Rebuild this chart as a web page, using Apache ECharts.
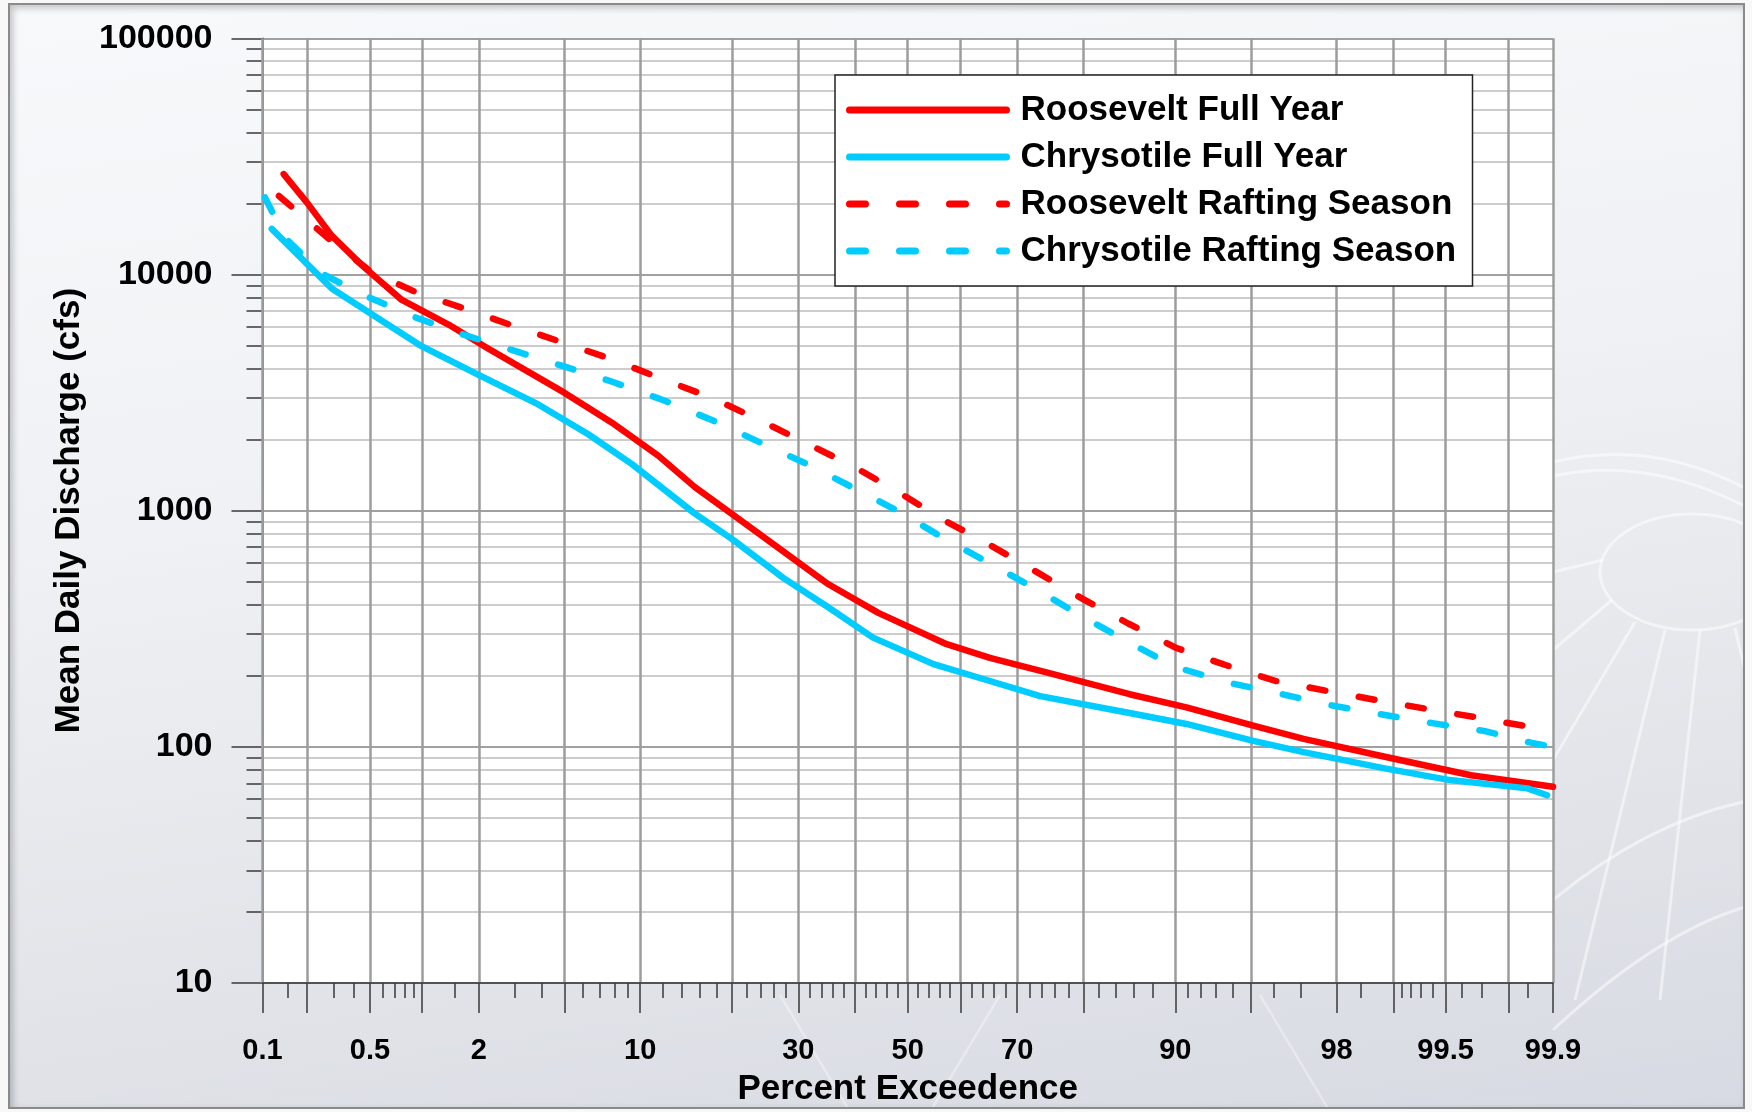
<!DOCTYPE html>
<html><head><meta charset="utf-8">
<script src="https://cdn.jsdelivr.net/npm/echarts@6/dist/echarts.min.js"></script>
<style>
html,body{margin:0;padding:0;width:1752px;height:1112px;overflow:hidden;background:#f8f8f8;}
#bg{position:absolute;left:8px;top:3px;width:1733px;height:1102px;border:2px solid #8a8a8a;box-shadow:inset 3px 3px 7px rgba(0,0,0,0.22);background:linear-gradient(172deg,#f8f9fb 0%,#f0f1f4 40%,#e2e4e9 75%,#d7dae2 100%);overflow:hidden;}
#bg svg{position:absolute;left:-10px;top:-5px;}
#chart{position:absolute;left:0;top:0;width:1752px;height:1112px;}
</style></head><body>
<div id="bg"><svg width="1752" height="1112" viewBox="0 0 1752 1112">
<g fill="none" stroke="#ffffff" stroke-opacity="0.5" stroke-width="3">
<path d="M1553,462 Q1655,438 1752,492"/>
<path d="M1553,476 Q1650,455 1752,510"/>
<ellipse cx="1692" cy="572" rx="92" ry="58"/>
<path d="M1603,560 L1553,572"/>
<path d="M1612,600 L1553,650"/>
<path d="M1635,622 L1553,760"/>
<path d="M1665,630 L1575,1000"/>
<path d="M1700,630 L1660,1000"/>
<path d="M1735,628 L1752,700"/>
<path d="M1553,900 Q1650,820 1752,800"/>
<path d="M1553,1030 Q1660,930 1752,905"/>
</g>
<g fill="none" stroke="#ffffff" stroke-opacity="0.35" stroke-width="2.5">
<path d="M780,995 L850,1112"/>
<path d="M1000,995 L930,1112"/>
<path d="M1260,995 L1330,1112"/>
</g></svg></div>
<div id="chart"></div>
<script>
// ---------------- data ----------------
const xGridPct  = [0.1,0.2,0.5,1,2,5,10,20,30,40,50,60,70,80,90,95,98,99,99.5,99.8,99.9];
const xMinorPct = [0.15,0.3,0.4,0.6,0.7,0.8,0.9,1.5,3,4,6,7,8,9,12,14,16,18,22,24,26,28,32,34,36,38,42,44,46,48,52,54,56,58,62,64,66,68,72,74,76,78,82,84,86,88,91,92,93,94,96,97,98.5,99.1,99.2,99.3,99.4,99.6,99.7,99.85];
const xLabels   = ['0.1','0.5','2','10','30','50','70','90','98','99.5','99.9'];
const yLabels   = [10,100,1000,10000,100000];
const yMinor    = [20,30,40,50,60,70,80,90,200,300,400,500,600,700,800,900,2000,3000,4000,5000,6000,7000,8000,9000,20000,30000,40000,50000,60000,70000,80000,90000];

const seriesNames = ['Roosevelt Full Year','Chrysotile Full Year','Roosevelt Rafting Season','Chrysotile Rafting Season'];

const rooseveltFullPct = [0.14,0.2,0.29,0.45,0.77,1.4,2.2,5,8,11.6,15.4,20.2,27.6,34.9,44.4,57.4,65.3,75.7,85.6,90.9,95.1,97.1,98.9,99.65,99.83,99.9];
const rooseveltFullCfs = [26600,20200,14600,10900,7800,6120,4880,3160,2320,1710,1258,957,670,493,369,272,238,203,167,147,123,108,90.6,75.8,71,67.7];

const chrysotileFullPct = [0.116,0.29,1.0,1.98,3.84,6.3,9.3,15.4,20.2,27.6,34.9,43.4,54.9,65.3,73.7,85.6,90.9,95.1,97.1,98.9,99.53,99.85,99.89];
const chrysotileFullCfs = [15600,8730,4960,3770,2817,2107,1577,971,750,518,394,290,224,190,164,139,125,106,95,80.9,72.3,66.7,62.4];

const rooseveltRaftPct = [0.13,0.27,0.51,0.91,1.70,3.0,5.0,8.05,12.1,17.6,24.1,31.6,40.0,48.7,57.2,65.6,73.4,79.9,85.5,90.1,93.6,96.1,97.8,98.8,99.39,99.71,99.86,99.9];
const rooseveltRaftCfs = [21500,14400,10250,8460,7150,6025,5125,4325,3590,2985,2400,1918,1527,1180,903,709,545,423,332,262,222,190,172,157,143.6,131.6,121,118];

const chrysotileRaftPct = [0.104,0.145,0.25,0.47,0.89,1.67,2.94,4.95,7.9,12.1,17.4,23.7,31.4,39.8,48.7,57.2,65.8,73.4,80.0,85.5,89.9,93.6,96.1,97.8,98.8,99.4,99.71,99.86,99.9];
const chrysotileRaftCfs = [21200,14200,10100,8120,6640,5560,4770,4090,3505,2935,2420,1960,1578,1247,980,756,589,459,354,277,219,188,169.5,150.7,137.7,126,116.8,103.9,100];

// ------------- normal-probability scale transform -------------
function probit(p){
  const a=[-3.969683028665376e+01,2.209460984245205e+02,-2.759285104469687e+02,1.383577518672690e+02,-3.066479806614716e+01,2.506628277459239e+00];
  const b=[-5.447609879822406e+01,1.615858368580409e+02,-1.556989798598866e+02,6.680131188771972e+01,-1.328068155288572e+01];
  const c=[-7.784894002430293e-03,-3.223964580411365e-01,-2.400758277161838e+00,-2.549732539343734e+00,4.374664141464968e+00,2.938163982698783e+00];
  const d=[7.784695709041462e-03,3.224671290700398e-01,2.445134137142996e+00,3.754408661907416e+00];
  const pl=0.02425, ph=1-pl;
  if(p<pl){const q=Math.sqrt(-2*Math.log(p));return (((((c[0]*q+c[1])*q+c[2])*q+c[3])*q+c[4])*q+c[5])/((((d[0]*q+d[1])*q+d[2])*q+d[3])*q+1);}
  if(p>ph){const q=Math.sqrt(-2*Math.log(1-p));return -(((((c[0]*q+c[1])*q+c[2])*q+c[3])*q+c[4])*q+c[5])/((((d[0]*q+d[1])*q+d[2])*q+d[3])*q+1);}
  const q=p-0.5,r=q*q;
  return (((((a[0]*r+a[1])*r+a[2])*r+a[3])*r+a[4])*r+a[5])*q/(((((b[0]*r+b[1])*r+b[2])*r+b[3])*r+b[4])*r+1);
}
const toZ = pct => probit(pct/100);
const X_MIN = toZ(0.1), X_MAX = toZ(99.9);
const labelZ = xLabels.map(s => toZ(parseFloat(s)));
function xFmt(v){
  let best=0, bd=Infinity;
  labelZ.forEach((z,i)=>{const dd=Math.abs(z-v); if(dd<bd){bd=dd;best=i;}});
  return xLabels[best];
}
const toXY = (pcts, vals) => pcts.map((p,i)=>[toZ(p), vals[i]]);

const RED = '#ff0000', CYAN = '#00ccff';
const LW = 6.5, DASH = [16,34];
const FONT = '"Liberation Sans", Arial, Helvetica, sans-serif';
const seriesColors = [RED, CYAN, RED, CYAN];
const seriesDash = ['solid','solid',DASH,DASH];

const chart = echarts.init(document.getElementById('chart'), null, {renderer:'canvas'});
const option = {
  animation:false,
  backgroundColor:'transparent',
  textStyle:{fontFamily:FONT},
  grid:{left:262.5, right:1752-1553, top:38.3, bottom:1112-989, show:true, backgroundColor:'#ffffff', borderWidth:0, containLabel:false},
  legend:{
    show:true, orient:'vertical', left:835, top:75,
    padding:[15,10,15,11], itemWidth:157, itemHeight:14, itemGap:7,
    backgroundColor:'#ffffff', borderColor:'#222', borderWidth:1.5, borderRadius:0,
    selectedMode:false,
    itemStyle:{opacity:0},
    textStyle:{fontFamily:FONT, fontSize:35, fontWeight:'bold', color:'#000', lineHeight:34, padding:[6,0,0,9], width:442},
    data:seriesNames.map((n,i)=>({
      name:n,
      itemStyle:{opacity:0},
      lineStyle:{color:seriesColors[i], width:7, type:seriesDash[i], cap:'round', opacity:1}
    }))
  },
  xAxis:[{
    type:'value', min:X_MIN, max:X_MAX, position:'bottom', z:2,
    axisLine:{show:true, onZero:false, lineStyle:{color:'#3a3a3a', width:1.5}},
    axisTick:{show:true, customValues:xGridPct.map(toZ), length:30, lineStyle:{color:'#3a3a3a', width:1.5}},
    splitLine:{show:true, lineStyle:{color:'#9c9c9c', width:2.5}},
    axisLabel:{show:true, customValues:labelZ, formatter:xFmt, margin:53, fontFamily:FONT, fontSize:29, fontWeight:'bold', color:'#000'},
    name:'Percent Exceedence', nameLocation:'middle', nameGap:89,
    nameTextStyle:{fontFamily:FONT, fontSize:35, fontWeight:'bold', color:'#000'}
  },{
    type:'value', min:X_MIN, max:X_MAX, position:'bottom', z:2,
    axisLine:{show:false, onZero:false},
    axisTick:{show:true, customValues:xMinorPct.map(toZ), length:15, lineStyle:{color:'#3a3a3a', width:1.5}},
    splitLine:{show:false}, axisLabel:{show:false}
  }],
  yAxis:[{
    type:'log', logBase:10, min:10, max:100000, position:'left', z:1,
    axisLine:{show:true, onZero:false, lineStyle:{color:'#555', width:1.5}},
    axisTick:{show:true, customValues:yLabels, length:31, lineStyle:{color:'#3a3a3a', width:1.5}},
    splitLine:{show:true, lineStyle:{color:'#a0a0a0', width:2}},
    axisLabel:{show:true, customValues:yLabels, formatter:v=>String(Math.round(v)), margin:50, fontFamily:FONT, fontSize:34, fontWeight:'bold', color:'#000'},
    name:'Mean Daily Discharge (cfs)', nameLocation:'middle', nameRotate:90, nameGap:176,
    nameTextStyle:{fontFamily:FONT, fontSize:35, fontWeight:'bold', color:'#000'}
  },{
    type:'log', logBase:10, min:10, max:100000, position:'left', z:0,
    axisLine:{show:false, onZero:false},
    axisTick:{show:true, customValues:yMinor, length:16, lineStyle:{color:'#3a3a3a', width:1.5}},
    splitLine:{show:true, lineStyle:{color:'#cdcdcd', width:2}},
    axisLabel:{show:false}
  }],
  series:[
    {name:seriesNames[0], type:'line', data:toXY(rooseveltFullPct, rooseveltFullCfs), symbol:'none', z:5,
     itemStyle:{color:RED}, lineStyle:{color:RED, width:LW, cap:'round', join:'round'}},
    {name:seriesNames[1], type:'line', data:toXY(chrysotileFullPct, chrysotileFullCfs), symbol:'none', z:5,
     itemStyle:{color:CYAN}, lineStyle:{color:CYAN, width:LW, cap:'round', join:'round'}},
    {name:seriesNames[2], type:'line', data:toXY(rooseveltRaftPct, rooseveltRaftCfs), symbol:'none', z:5,
     itemStyle:{color:RED}, lineStyle:{color:RED, width:LW, cap:'round', join:'round', type:DASH}},
    {name:seriesNames[3], type:'line', data:toXY(chrysotileRaftPct, chrysotileRaftCfs), symbol:'none', z:5,
     itemStyle:{color:CYAN}, lineStyle:{color:CYAN, width:LW, cap:'round', join:'round', type:DASH}}
  ]
};
chart.setOption(option);
</script></body></html>
